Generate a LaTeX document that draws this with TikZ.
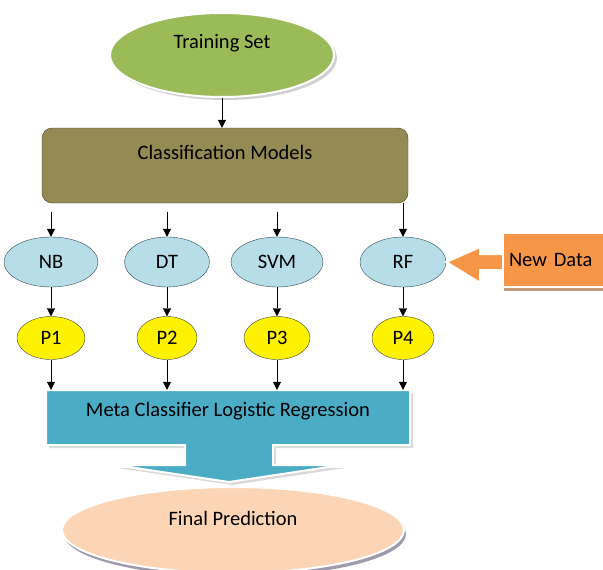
\documentclass[tikz,border=0pt]{standalone}
\usepackage{fontspec}
\setmainfont{Carlito}
\usetikzlibrary{shapes.geometric,arrows.meta,calc}
\definecolor{traingreen}{HTML}{9BBB59}
\definecolor{clsolive}{HTML}{948A54}
\definecolor{clsborder}{HTML}{4A4428}
\definecolor{modelblue}{HTML}{B7DEE8}
\definecolor{modelborder}{HTML}{2E4756}
\definecolor{metablue}{HTML}{4BACC6}
\definecolor{finalpeach}{HTML}{FBD5B5}
\definecolor{finalshadow}{HTML}{9D9AAB}
\definecolor{ndorange}{HTML}{F79646}
\definecolor{ndshadow}{HTML}{C49A78}

\begin{document}
\begin{tikzpicture}[x=1pt,y=-1pt,
  font=\fontsize{20.5}{24}\selectfont,
  model/.style={ellipse, draw=modelborder, thin, fill=modelblue, minimum height=50pt, inner sep=0pt},
  pred/.style={ellipse, draw=black!75, thin, fill=yellow, minimum height=43pt, inner sep=0pt},
  link/.style={-{Triangle[width=8pt,length=8pt]}, thin}]
\useasboundingbox (0,0) rectangle (603,570);
\clip (0,0) rectangle (603,570);

\fill[black!18] (225,58) ellipse (112 and 42);
\node[ellipse, fill=traingreen, draw=white, line width=2pt, minimum width=224pt, minimum height=84pt,
  label={[yshift=12pt]center:Training Set}] (train) at (222,55) {};

\node[rectangle, rounded corners=10pt, fill=clsolive, draw=clsborder, minimum width=366pt, minimum height=75pt,
  label={[yshift=13pt]center:Classification Models}] (cls) at (225,165.5) {};
\draw[link] (train.south) -- (train.south |- cls.north);

\node[model, minimum width=94pt] (nb) at (51,262) {NB};
\node[model, minimum width=85pt] (dt) at (167,262) {DT};
\node[model, minimum width=92pt] (svm) at (277,262) {SVM};
\node[model, minimum width=86pt] (rf) at (403,262) {RF};

\draw[link] ($(nb.north |- cls.south)+(0,9)$) -- (nb.north);
\draw[link] ($(dt.north |- cls.south)+(0,9)$) -- (dt.north);
\draw[link] ($(svm.north |- cls.south)+(0,9)$) -- (svm.north);
\draw[link] (rf.north |- cls.south) -- (rf.north);

\node[pred, minimum width=68pt] (p1) at (51,338) {P1};
\node[pred, minimum width=60pt] (p2) at (167,338) {P2};
\node[pred, minimum width=66pt] (p3) at (277,338) {P3};
\node[pred, minimum width=62pt] (p4) at (403,338) {P4};

\draw[link] (nb) -- (p1);
\draw[link] (dt) -- (p2);
\draw[link] (svm) -- (p3);
\draw[link] (rf) -- (p4);

\fill[black!15, shift={(3,3)}] (46,390) -- (410,390) -- (410,445) -- (273,445) -- (273,465) -- (342,465) -- (229,482) -- (115,465) -- (185,465) -- (185,445) -- (46,445) -- cycle;
\filldraw[fill=metablue, draw=white, line width=2pt] (46,390) -- (410,390) -- (410,445) -- (273,445) -- (273,465) -- (342,465) -- (229,482) -- (115,465) -- (185,465) -- (185,445) -- (46,445) -- cycle;
\node[minimum width=364pt, minimum height=55pt, inner sep=0pt,
  label={[yshift=6pt]center:Meta Classifier Logistic Regression}] (meta) at (228,417.5) {};

\draw[link] (p1) -- (p1 |- meta.north);
\draw[link] (p2) -- (p2 |- meta.north);
\draw[link] (p3) -- (p3 |- meta.north);
\draw[link] (p4) -- (p4 |- meta.north);

\fill[finalshadow] (235,534) ellipse (171 and 43);
\node[ellipse, fill=finalpeach, draw=white, line width=2pt, minimum width=342pt, minimum height=86pt,
  label={[yshift=12pt]center:Final Prediction}] (final) at (233,530) {};

\fill[ndshadow, shift={(2,3)}] (rf.east) -- ++(34,-15) -- ++(0,7) -- ++(26,0) -- ++(0,16) -- ++(-26,0) -- ++(0,13) -- cycle;
\filldraw[fill=ndorange, draw=white, line width=2pt] (rf.east) -- ++(34,-15) -- ++(0,7) -- ++(26,0) -- ++(0,16) -- ++(-26,0) -- ++(0,13) -- cycle;
\fill[ndshadow] (504,237) rectangle (610,291);
\node[fill=ndorange, draw=white, line width=2pt, anchor=west, text width=96pt, inner xsep=6pt,
  minimum height=54pt, align=left] (newdata) at (502,260) {New Data};
\end{tikzpicture}
\end{document}
